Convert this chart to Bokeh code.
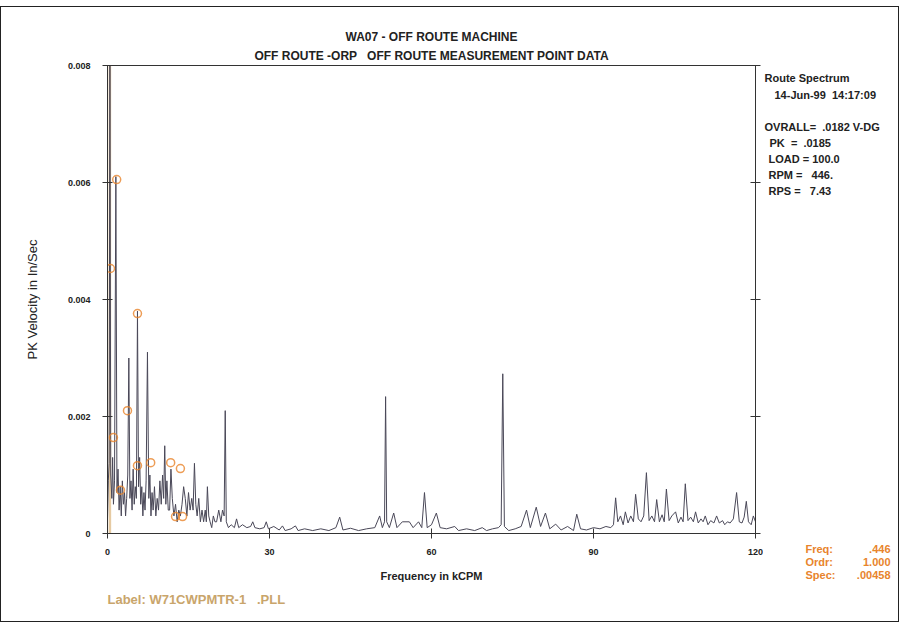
from bokeh.plotting import figure
from bokeh.layouts import row
from bokeh.models import Label, LinearAxis, FixedTicker, Range1d, PrintfTickFormatter, Title
from bokeh.embed import file_html
from bokeh.resources import INLINE

NB = "\u00a0"

# ---------------- data ----------------
title_lines = ["WA07 - OFF ROUTE MACHINE",
               "OFF ROUTE -ORP" + NB * 3 + "OFF ROUTE MEASUREMENT POINT DATA"]
info_lines = ["Route Spectrum", "14-Jun-99" + NB * 2 + "14:17:09", "",
              "OVRALL=" + NB * 2 + ".0182 V-DG", "PK" + NB * 2 + "=" + NB * 2 + ".0185",
              "LOAD = 100.0", "RPM =" + NB * 3 + "446.", "RPS =" + NB * 3 + "7.43"]
cursor_names = ["Freq:", "Ordr:", "Spec:"]
cursor_values = [".446", "1.000", ".00458"]
label_text = "Label:" + NB + "W71CWPMTR-1" + NB * 3 + ".PLL"

x_ticks = [0, 30, 60, 90, 120]
y_ticks = [0, 0.002, 0.004, 0.006, 0.008]

cursor_freq = 0.446

# low band 0-20 kCPM
low_freq = [0.00, 0.15, 0.30, 0.446, 0.60, 0.80, 0.95, 1.10, 1.30, 1.55,
            1.75, 1.95, 2.15, 2.35, 2.55, 2.75, 2.95, 3.15, 3.35, 3.55,
            3.75, 3.95, 4.15, 4.35, 4.55, 4.75, 4.95, 5.15, 5.35, 5.55,
            5.75, 5.95, 6.15, 6.35, 6.55, 6.75, 6.95, 7.15, 7.40, 7.65,
            7.85, 8.05, 8.25, 8.45, 8.70, 8.95, 9.20, 9.45, 9.70, 9.95,
            10.20, 10.40, 10.60, 10.80, 11.00, 11.25, 11.50, 11.75, 12.00, 12.30,
            12.60, 12.90, 13.20, 13.50, 13.80, 14.10, 14.40, 14.70, 15.00, 15.30,
            15.60, 15.85, 16.10, 16.35, 16.60, 16.90, 17.20, 17.50, 17.80, 18.10,
            18.30, 18.50, 18.75, 19.00, 19.30, 19.60, 19.90]
low_amp = [0.00025, 0.0009, 0.0012, 0.0080, 0.0010, 0.0006, 0.0013, 0.0005, 0.0009, 0.0061,
           0.0007, 0.0011, 0.0004, 0.0008, 0.0003, 0.0009, 0.0005, 0.0007, 0.0003, 0.0006,
           0.0010, 0.0030, 0.0006, 0.0009, 0.0004, 0.0011, 0.0005, 0.0008, 0.0006, 0.0038,
           0.0008, 0.0013, 0.0005, 0.0008, 0.0003, 0.0007, 0.0004, 0.0009, 0.0031, 0.0006,
           0.0010, 0.0003, 0.0007, 0.0004, 0.0008, 0.0003, 0.0006, 0.0004, 0.0009, 0.0005,
           0.0010, 0.0006, 0.0015, 0.0005, 0.0009, 0.0004, 0.0004, 0.0011, 0.0006, 0.0003,
           0.0005, 0.0002, 0.0004, 0.0003, 0.0005, 0.0008, 0.0006, 0.0003, 0.0007, 0.0004,
           0.0006, 0.0004, 0.0012, 0.0005, 0.0003, 0.0006, 0.0002, 0.0004, 0.0002, 0.0004,
           0.0002, 0.0008, 0.0003, 0.0002, 0.0001, 0.0003, 0.0002]

# mid band 20-93 kCPM
mid_freq = [20.20, 20.60, 21.00, 21.30, 21.60, 21.80, 22.00, 22.40, 22.90, 23.50,
            23.90, 24.30, 25.00, 25.80, 26.50, 26.90, 27.30, 28.20, 29.00, 29.40,
            29.80, 30.80, 31.80, 32.40, 32.90, 34.00, 34.80, 35.30, 36.50, 38.00,
            39.50, 41.00, 42.30, 43.00, 43.60, 45.00, 46.50, 48.00, 49.50, 50.40,
            50.90, 51.30, 51.50, 51.70, 52.20, 53.00, 53.60, 54.60, 55.90, 56.60,
            57.60, 58.20, 58.70, 59.20, 60.00, 60.90, 61.60, 62.80, 64.30, 65.00,
            66.50, 68.00, 69.40, 70.20, 71.30, 72.40, 72.90, 73.20, 73.50, 74.30,
            75.50, 76.60, 77.60, 78.30, 79.40, 80.20, 81.10, 81.90, 83.00, 84.00,
            85.20, 86.30, 86.90, 87.60, 88.70, 90.00, 91.20, 92.30, 93.20]
mid_amp = [0.0002, 0.0004, 0.0002, 0.0004, 0.0003, 0.0021, 0.0002, 0.0001, 0.00015, 0.0001,
           0.00025, 0.0001, 0.00015, 0.0001, 0.00012, 0.0002, 0.0001, 0.00008, 0.0001, 0.0002,
           0.00008, 0.00012, 0.00006, 0.00013, 0.00005, 0.00008, 0.00013, 0.00005, 0.00008, 0.00005,
           0.00008, 0.00005, 0.0001, 0.00028, 0.00006, 0.00009, 0.00005, 0.00008, 0.0001, 0.0003,
           0.0001, 0.0002, 0.00234, 0.0002, 0.0001, 0.00035, 0.0001, 0.0002, 0.0002, 0.0001,
           0.0002, 0.0001, 0.0007, 0.0001, 0.00015, 0.00035, 0.0001, 0.00008, 0.00012, 0.00005,
           0.00008, 0.00005, 0.0001, 0.00005, 0.00008, 0.0001, 0.00015, 0.00273, 0.00012, 0.00005,
           0.00008, 0.00012, 0.0004, 0.0001, 0.00045, 0.00012, 0.00035, 0.00008, 0.00016, 0.00006,
           0.00012, 0.00005, 0.00033, 0.00008, 0.00006, 0.0001, 0.00008, 0.00012, 0.0001]

# high band 93-120 kCPM
high_freq = [93.70, 94.10, 94.50, 95.00, 95.50, 95.90, 96.40, 96.90, 97.40, 97.80,
             98.30, 98.80, 99.30, 99.80, 100.30, 100.80, 101.30, 101.70, 102.20, 102.70,
             103.10, 103.50, 104.00, 104.50, 105.20, 105.70, 106.20, 106.60, 107.00, 107.50,
             108.00, 108.50, 108.90, 109.40, 109.90, 110.30, 110.70, 111.20, 111.70, 112.30,
             112.80, 113.30, 113.90, 114.30, 114.80, 115.30, 115.90, 116.50, 117.00, 117.50,
             117.90, 118.30, 118.70, 119.20, 119.60, 120.00]
high_amp = [0.00015, 0.00061, 0.0002, 0.0003, 0.00015, 0.00037, 0.00018, 0.0003, 0.0002, 0.00067,
            0.00025, 0.0002, 0.0003, 0.00104, 0.00022, 0.0003, 0.0002, 0.00058, 0.0002, 0.00032,
            0.0002, 0.00076, 0.00022, 0.0003, 0.00037, 0.00018, 0.00028, 0.0002, 0.00085, 0.00022,
            0.00028, 0.0002, 0.00037, 0.00018, 0.00025, 0.0002, 0.0003, 0.00015, 0.00022, 0.00018,
            0.0003, 0.00018, 0.00022, 0.00015, 0.0002, 0.00018, 0.00025, 0.0007, 0.0002, 0.00018,
            0.00028, 0.00055, 0.0002, 0.00015, 0.0003, 0.0002]

# harmonic cursor markers (orange circles)
marker_freq = [1.7, 0.55, 5.55, 3.7, 1.1, 5.55, 8.0, 11.7, 13.5, 2.4, 12.6, 13.9]
marker_amp = [0.00605, 0.00453, 0.00376, 0.0021, 0.00164, 0.00116, 0.00121, 0.00121,
              0.00111, 0.00074, 0.00029, 0.00029]

freq = low_freq + mid_freq + high_freq
amp = low_amp + mid_amp + high_amp

# ---------------- main figure ----------------
H = 614
WM, WS = 762, 135           # main figure / side text panel widths
FONT = "Liberation Sans"
ORANGE = "#e8842c"
TAN = "#c9a56b"
INK = "#222222"

p = figure(width=WM, height=H, output_backend="svg", toolbar_location=None,
           x_range=Range1d(0, 120), y_range=Range1d(0, 0.008),
           min_border_left=106, min_border_right=WM - 754, min_border_top=58,
           min_border_bottom=H - 526, frame_align=False,
           x_axis_label="Frequency in kCPM", y_axis_label="PK Velocity in In/Sec")
p.grid.visible = False
p.outline_line_color = "#333333"
p.outline_line_width = 1
p.background_fill_color = "white"
p.border_fill_color = "white"

for ax in (p.xaxis[0], p.yaxis[0]):
    ax.axis_line_color = "#333333"
    ax.major_tick_line_color = "#333333"
    ax.major_tick_in = 5
    ax.major_tick_out = 5
    ax.minor_tick_line_color = None
    ax.major_label_text_font = FONT
    ax.major_label_text_font_style = "bold"
    ax.major_label_text_font_size = "9px"
    ax.major_label_text_color = INK
    ax.axis_label_text_font = FONT
    ax.axis_label_text_color = INK

p.xaxis.ticker = FixedTicker(ticks=x_ticks)
p.xaxis.major_label_standoff = 10
p.xaxis.axis_label_text_font_style = "bold"
p.xaxis.axis_label_text_font_size = "11px"
p.xaxis.axis_label_standoff = 12

p.yaxis.ticker = FixedTicker(ticks=y_ticks)
p.yaxis.formatter = PrintfTickFormatter(format="%.3f")
p.yaxis.major_label_overrides = {0: "0"}
p.yaxis.major_label_standoff = 12
p.yaxis.axis_label_text_font_style = "normal"
p.yaxis.axis_label_text_font_size = "13px"
p.yaxis.axis_label_standoff = 25

right = LinearAxis(ticker=FixedTicker(ticks=y_ticks),
                   major_label_overrides={t: "" for t in y_ticks},
                   major_label_standoff=0,
                   axis_line_color="#333333", major_tick_line_color="#333333",
                   major_tick_in=5, major_tick_out=5, minor_tick_line_color=None)
p.add_layout(right, "right")

# two-line heading (added bottom line first: later titles stack above)
p.add_layout(Title(text=title_lines[1], align="center", text_font=FONT,
                   text_font_size="12px", text_font_style="bold", text_color=INK,
                   standoff=5), "above")
p.add_layout(Title(text=title_lines[0], align="center", text_font=FONT,
                   text_font_size="12px", text_font_style="bold", text_color=INK,
                   standoff=1), "above")
# label line under the x axis
p.add_layout(Title(text=label_text, align="left", text_font=FONT,
                   text_font_size="13px", text_font_style="bold", text_color=TAN,
                   standoff=10), "below")

# cursor line
p.segment(x0=[cursor_freq], y0=[0], x1=[cursor_freq], y1=[y_ticks[-1]],
          line_color="#dcb47a", line_width=2.5, line_alpha=0.7)

# spectrum
p.line(freq, amp, line_color="#4a4858", line_width=1)

# harmonic markers
p.scatter(marker_freq, marker_amp, marker="circle", size=8, fill_color=None,
          line_color=ORANGE, line_width=1.5, line_alpha=0.8)

# ---------------- side text panel ----------------
s = figure(width=WS, height=H, output_backend="svg", toolbar_location=None,
           x_range=Range1d(0, 1), y_range=Range1d(0, 1), frame_align=False,
           x_axis_type=None, y_axis_type=None, min_border=0)
s.grid.visible = False
s.outline_line_color = None
s.background_fill_color = "white"
s.border_fill_color = "white"

SX, SY = 1 + WM, 7 + H      # page position of side panel's bottom-left corner

def add_text(text, px, py, size="11px", color=INK, align="left"):
    s.add_layout(Label(x=px - SX, y=SY - py, x_units="screen", y_units="screen", text=text,
                       text_font=FONT, text_font_size=size, text_font_style="bold",
                       text_color=color, text_align=align, text_baseline="middle"))

info_x = [764, 774, 764, 764, 769, 768, 768, 768]
info_y = [77, 94, 110, 126, 142, 158, 174, 190]
for t, x, y in zip(info_lines, info_x, info_y):
    if t:
        add_text(t, x, y)

for i, (n, v) in enumerate(zip(cursor_names, cursor_values)):
    y = 548 + i * 13
    add_text(n, 805, y, size="11px", color=ORANGE)
    add_text(v, 890, y, size="11px", color=ORANGE, align="right")

layout = row(p, s, styles={"border": "1px solid #222", "margin-top": "6px"})

html = file_html(layout, INLINE)
open("out.html", "w").write(html)
